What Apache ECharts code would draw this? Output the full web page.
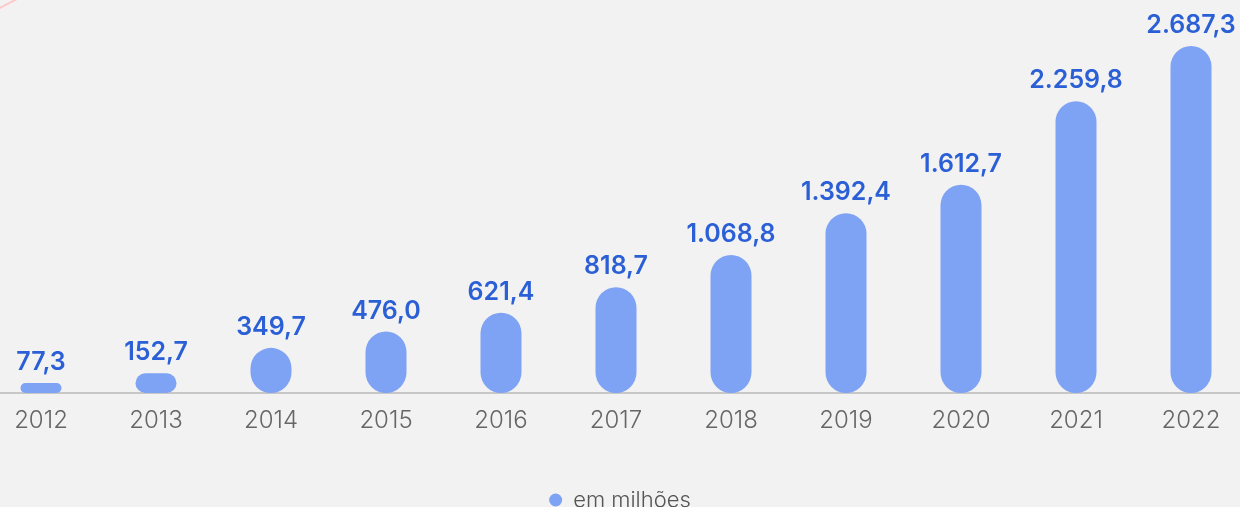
<!DOCTYPE html>
<html>
<head>
<meta charset="utf-8">
<title>em milhões</title>
<script src="https://cdn.jsdelivr.net/npm/echarts@6/dist/echarts.min.js"></script>
<style>
  html, body { margin: 0; padding: 0; background: #f2f2f2; }
  #chart { width: 1240px; height: 507px; }
</style>
</head>
<body>
<div id="chart"></div>
<script>
// anos e valores (em milhões)
const years = ['2012', '2013', '2014', '2015', '2016', '2017', '2018', '2019', '2020', '2021', '2022'];
const values = [77.3, 152.7, 349.7, 476.0, 621.4, 818.7, 1068.8, 1392.4, 1612.7, 2259.8, 2687.3];
const seriesName = 'em milhões';

// 1234.5 -> "1.234,5"
function fmtBR(v) {
  const parts = v.toFixed(1).split('.');
  const int = parts[0].replace(/\B(?=(\d{3})+(?!\d))/g, '.');
  return int + ',' + parts[1];
}

const myChart = echarts.init(document.getElementById('chart'));

const option = {
  backgroundColor: '#f2f2f2',
  animation: false,
  graphic: [
    {
      // risco decorativo no canto
      type: 'line',
      shape: {x1: -2, y1: 9, x2: 17, y2: -1},
      style: {stroke: '#ffc9c9', lineWidth: 2}
    }
  ],
  legend: {
    bottom: -9,
    left: 'center',
    icon: 'circle',
    itemWidth: 13,
    itemHeight: 13,
    itemGap: 8,
    textStyle: {
      fontFamily: 'Inter',
      fontSize: 22,
      fontWeight: 300,
      color: '#555',
      padding: [0, 0, 0, 6]
    },
    data: [seriesName]
  },
  grid: {
    left: -16.5,
    right: -8.5,
    top: 46,
    bottom: 114,
    containLabel: false,
    outerBoundsMode: 'none'
  },
  xAxis: {
    type: 'category',
    data: years,
    axisLine: {
      show: true,
      lineStyle: {color: '#b8b8b8', width: 1.5}
    },
    axisTick: {show: false},
    axisLabel: {
      margin: 16,
      fontFamily: 'Inter',
      fontSize: 24,
      fontWeight: 300,
      color: '#666'
    }
  },
  yAxis: {
    type: 'value',
    min: 0,
    max: 'dataMax',
    show: false,
    splitLine: {show: false}
  },
  series: [
    {
      name: seriesName,
      type: 'bar',
      data: values,
      barWidth: 41,
      itemStyle: {
        color: '#7ea2f4',
        borderRadius: 21
      },
      label: {
        show: true,
        position: 'top',
        distance: 8,
        formatter: p => fmtBR(p.value),
        fontFamily: 'Inter',
        fontSize: 25,
        fontWeight: 600,
        color: '#2b5fd6'
      }
    }
  ]
};

myChart.setOption(option);
</script>
</body>
</html>
